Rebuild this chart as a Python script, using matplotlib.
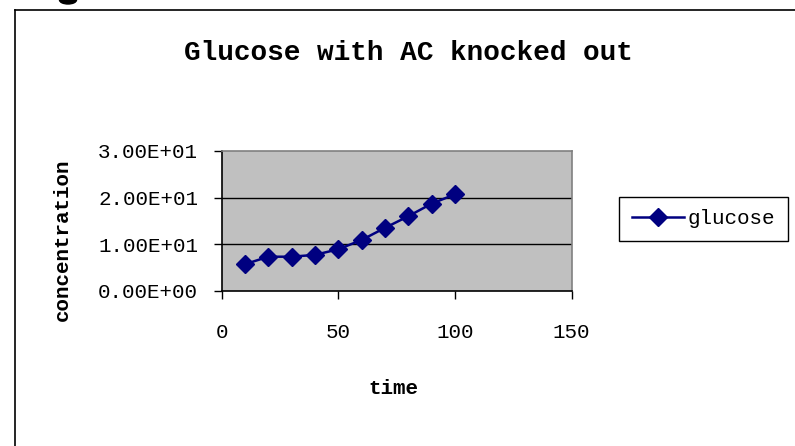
import matplotlib.pyplot as plt
from matplotlib.patches import Ellipse
from matplotlib.lines import Line2D

time = [10, 20, 30, 40, 50, 60, 70, 80, 90, 100]
glucose = [5.7, 7.3, 7.3, 7.7, 8.9, 10.9, 13.5, 16.0, 18.7, 20.7]
xticks = [0, 50, 100, 150]
yticks = [0, 10, 20, 30]
ytick_labels = ["0.00E+00", "1.00E+01", "2.00E+01", "3.00E+01"]

W, H = 795, 446
FONT = "Liberation Mono"
NAVY = "#000080"

fig = plt.figure(figsize=(W / 100, H / 100), dpi=100, facecolor="white")

# chart-area border (cut off at right and bottom)
fig.add_artist(Line2D([15 / W, 15 / W], [0, 1 - 10 / H], color="black", lw=1.2,
                      transform=fig.transFigure))
fig.add_artist(Line2D([15 / W, 1], [1 - 10 / H, 1 - 10 / H], color="black", lw=1.2,
                      transform=fig.transFigure))
# clipped remnant of a letter above the chart
fig.add_artist(Ellipse((68 / W, 1.0), 17 / W, 8 / H, color="black",
                       transform=fig.transFigure))

ax = fig.add_axes([221.7 / W, 1 - 290.7 / H, 350 / W, 139.7 / H])
ax.set_facecolor("#c0c0c0")
ax.plot(time, glucose, color=NAVY, lw=1.8, marker="D", markersize=9,
        markerfacecolor=NAVY, markeredgecolor=NAVY, label="glucose", zorder=3)

ax.set_xlim(0, 150)
ax.set_ylim(0, 30)
ax.set_xticks(xticks)
ax.set_xticklabels([str(v) for v in xticks], family=FONT, fontsize=15)
ax.set_yticks(yticks)
ax.set_yticklabels(ytick_labels, family=FONT, fontsize=15)
ax.tick_params(axis="x", direction="out", length=6, width=1, pad=17)
ax.tick_params(axis="y", direction="out", length=6, width=1, pad=11)
for y in [10, 20]:
    ax.axhline(y, color="black", lw=1, zorder=1)

for side in ["top", "right"]:
    ax.spines[side].set_color("#808080")
    ax.spines[side].set_linewidth(1.2)
for side in ["left", "bottom"]:
    ax.spines[side].set_color("black")
    ax.spines[side].set_linewidth(1.2)

fig.text(408 / W, 1 - 53 / H, "Glucose with AC knocked out", family=FONT,
         fontsize=20, fontweight="bold", ha="center", va="center")
fig.text(393 / W, 1 - 388 / H, "time", family=FONT, fontsize=15,
         fontweight="bold", ha="center", va="center")
fig.text(62 / W, 1 - 240 / H, "concentration", family=FONT, fontsize=15,
         fontweight="bold", ha="center", va="center", rotation=90)

leg = fig.legend(loc="center left", bbox_to_anchor=(619 / W, 1 - 219 / H),
                 prop={"family": FONT, "size": 15}, handlelength=2.5,
                 handletextpad=0.2, borderpad=0.6, borderaxespad=0,
                 fancybox=False, framealpha=1, edgecolor="black")
leg.get_frame().set_linewidth(1)

fig.savefig("out.png", dpi=100, facecolor="white")
